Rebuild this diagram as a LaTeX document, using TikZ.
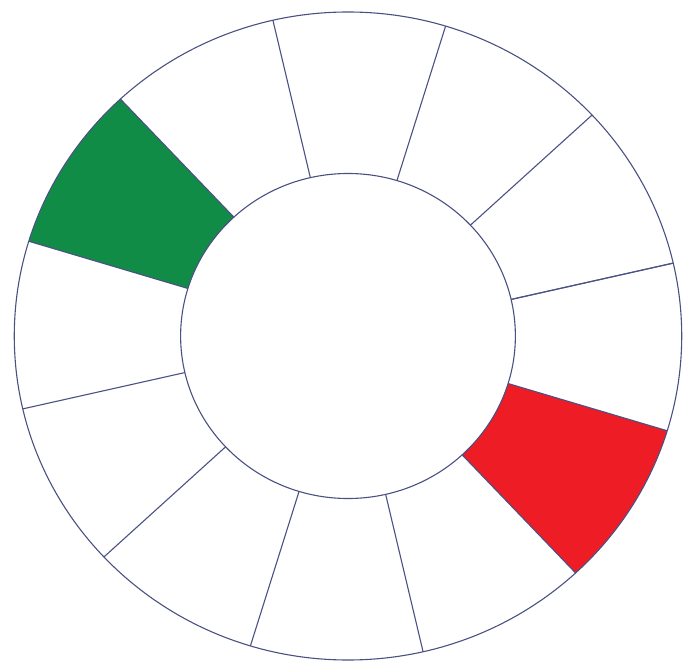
\documentclass[tikz,border=0pt]{standalone}
\begin{document}
\begin{tikzpicture}[x=1pt,y=1pt,
  ringline/.style={draw=ringblue, line width=1.1pt},
  sector/.style={draw=ringblue, line width=1.1pt}]
\definecolor{ringblue}{HTML}{4A5284}
\definecolor{wheelgreen}{HTML}{118C47}
\definecolor{wheelred}{HTML}{EE1C25}
\useasboundingbox[fill=white] (-348,-328) rectangle (337,336);
\begin{scope}[xscale=1.03]
  \def\Ro{324}
  \def\Ri{162.5}
  % coloured sectors
  \fill[wheelgreen] (133:\Ro) arc (133:163:\Ro) -- (163:\Ri) arc (163:133:\Ri) -- cycle;
  \fill[wheelred] (-47:\Ro) arc (-47:-17:\Ro) -- (-17:\Ri) arc (-17:-47:\Ri) -- cycle;
  % rings
  \draw[ringline] (0,0) circle (\Ro);
  \draw[ringline] (0,0) circle (\Ri);
  % dividers
  \foreach \a in {13,43,...,373} {
    \draw[ringline] (\a:\Ri) -- (\a:\Ro);
  }
\end{scope}
\end{tikzpicture}
\end{document}
